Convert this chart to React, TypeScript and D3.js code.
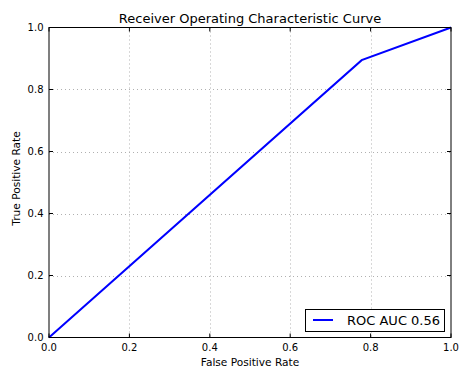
import React from "react";
import * as d3 from "d3";

const fpr = [0, 0.7778, 1];
const tpr = [0, 0.8947, 1];
const xTicks = [0, 0.2, 0.4, 0.6, 0.8, 1.0];
const yTicks = [0, 0.2, 0.4, 0.6, 0.8, 1.0];
const title = "Receiver Operating Characteristic Curve";
const xLabel = "False Positive Rate";
const yLabel = "True Positive Rate";
const legendLabel = "ROC AUC 0.56";

const W = 461;
const H = 368;
const M = { left: 49, right: 451, top: 27.5, bottom: 337.5 };
const FONT = "DejaVu Sans, sans-serif";

export default function App() {
  const x = d3.scaleLinear().domain([0, 1]).range([M.left, M.right]);
  const y = d3.scaleLinear().domain([0, 1]).range([M.bottom, M.top]);
  const pts: [number, number][] = fpr.map((f, i) => [f, tpr[i]]);
  const line = d3
    .line<[number, number]>()
    .x((d) => x(d[0]))
    .y((d) => y(d[1]));

  return (
    <svg
      width={W}
      height={H}
      style={{ position: "absolute", left: 0, top: 0 }}
      fontFamily={FONT}
    >
      <rect width={W} height={H} fill="#fff" />
      {/* grid */}
      {xTicks.slice(1, -1).map((t) => (
        <line
          key={"gx" + t}
          x1={Math.round(x(t)) + 0.5}
          x2={Math.round(x(t)) + 0.5}
          y1={M.top}
          y2={M.bottom}
          stroke="#b0b0b0"
          strokeWidth={1}
          strokeDasharray="1,3"
        />
      ))}
      {yTicks.slice(1, -1).map((t) => (
        <line
          key={"gy" + t}
          x1={M.left}
          x2={M.right}
          y1={Math.round(y(t)) + 0.5}
          y2={Math.round(y(t)) + 0.5}
          stroke="#b0b0b0"
          strokeWidth={1}
          strokeDasharray="1,3"
        />
      ))}
      {/* curve */}
      <path d={line(pts) || ""} fill="none" stroke="#0000ff" strokeWidth={2} />
      {/* ticks, inward on all sides */}
      {xTicks.map((t) => (
        <g key={"tx" + t}>
          <line x1={x(t)} x2={x(t)} y1={M.bottom} y2={M.bottom - 4} stroke="#000" />
          <line x1={x(t)} x2={x(t)} y1={M.top} y2={M.top + 4} stroke="#000" />
          <text x={x(t)} y={351} fontSize={10} textAnchor="middle" fill="#000">
            {t.toFixed(1)}
          </text>
        </g>
      ))}
      {yTicks.map((t) => (
        <g key={"ty" + t}>
          <line x1={M.left} x2={M.left + 4} y1={y(t)} y2={y(t)} stroke="#000" />
          <line x1={M.right} x2={M.right - 4} y1={y(t)} y2={y(t)} stroke="#000" />
          <text
            x={M.left - 5.5}
            y={y(t)}
            dy="0.35em"
            fontSize={10}
            textAnchor="end"
            fill="#000"
          >
            {t.toFixed(1)}
          </text>
        </g>
      ))}
      {/* frame */}
      <rect
        x={M.left}
        y={M.top}
        width={M.right - M.left}
        height={M.bottom - M.top}
        fill="none"
        stroke="#000"
        strokeWidth={1}
      />
      {/* legend */}
      <rect x={305.5} y={309.5} width={139} height={22} fill="#fff" stroke="#000" />
      <line x1={313} x2={333} y1={320} y2={320} stroke="#0000ff" strokeWidth={2} />
      <text x={347} y={320} dy="0.35em" fontSize={13} fill="#000">
        {legendLabel}
      </text>
      {/* labels */}
      <text x={(M.left + M.right) / 2} y={23} fontSize={13} textAnchor="middle" fill="#000">
        {title}
      </text>
      <text x={(M.left + M.right) / 2} y={366} fontSize={10.6} textAnchor="middle" fill="#000">
        {xLabel}
      </text>
      <text
        transform={`translate(20,${(M.top + M.bottom) / 2 - 4}) rotate(-90)`}
        fontSize={10.6}
        textAnchor="middle"
        fill="#000"
      >
        {yLabel}
      </text>
    </svg>
  );
}
